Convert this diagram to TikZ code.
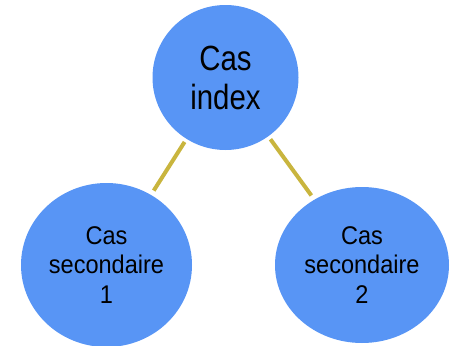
\documentclass[tikz,border=0pt]{standalone}
\usepackage{fontspec}
\setmainfont{Liberation Sans}
\newfontfamily\bigcas[FakeStretch=0.84]{Liberation Sans}
\newfontfamily\smallcas[FakeStretch=0.92]{Liberation Sans}
\usetikzlibrary{shapes.geometric}
\definecolor{casblue}{RGB}{88,149,245}
\definecolor{lienor}{RGB}{201,181,62}
\tikzset{
  cas/.style={ellipse,fill=casblue,inner sep=0pt,align=center},
  lien/.style={draw=lienor,line width=4pt,shorten <=3.5pt,shorten >=5pt}
}

\begin{document}
\begin{tikzpicture}[x=1pt,y=-1pt]
\useasboundingbox (0,0) rectangle (456,346);
\node[cas,minimum width=146pt,minimum height=145pt,
  font=\bigcas\fontsize{35}{39}\selectfont] (idx) at (225.5,77.5) {Cas\\index};
\node[cas,minimum width=171pt,minimum height=164pt,
  font=\smallcas\fontsize{25.6}{29.5}\selectfont] (sec1) at (106.5,265) {Cas\\secondaire\\1};
\node[cas,minimum width=174pt,minimum height=156pt,
  font=\smallcas\fontsize{25.6}{29.5}\selectfont] (sec2) at (362,265) {Cas\\secondaire\\2};
\draw[lien] (idx)--(sec1);
\draw[lien] (idx)--(sec2);
\end{tikzpicture}
\end{document}
